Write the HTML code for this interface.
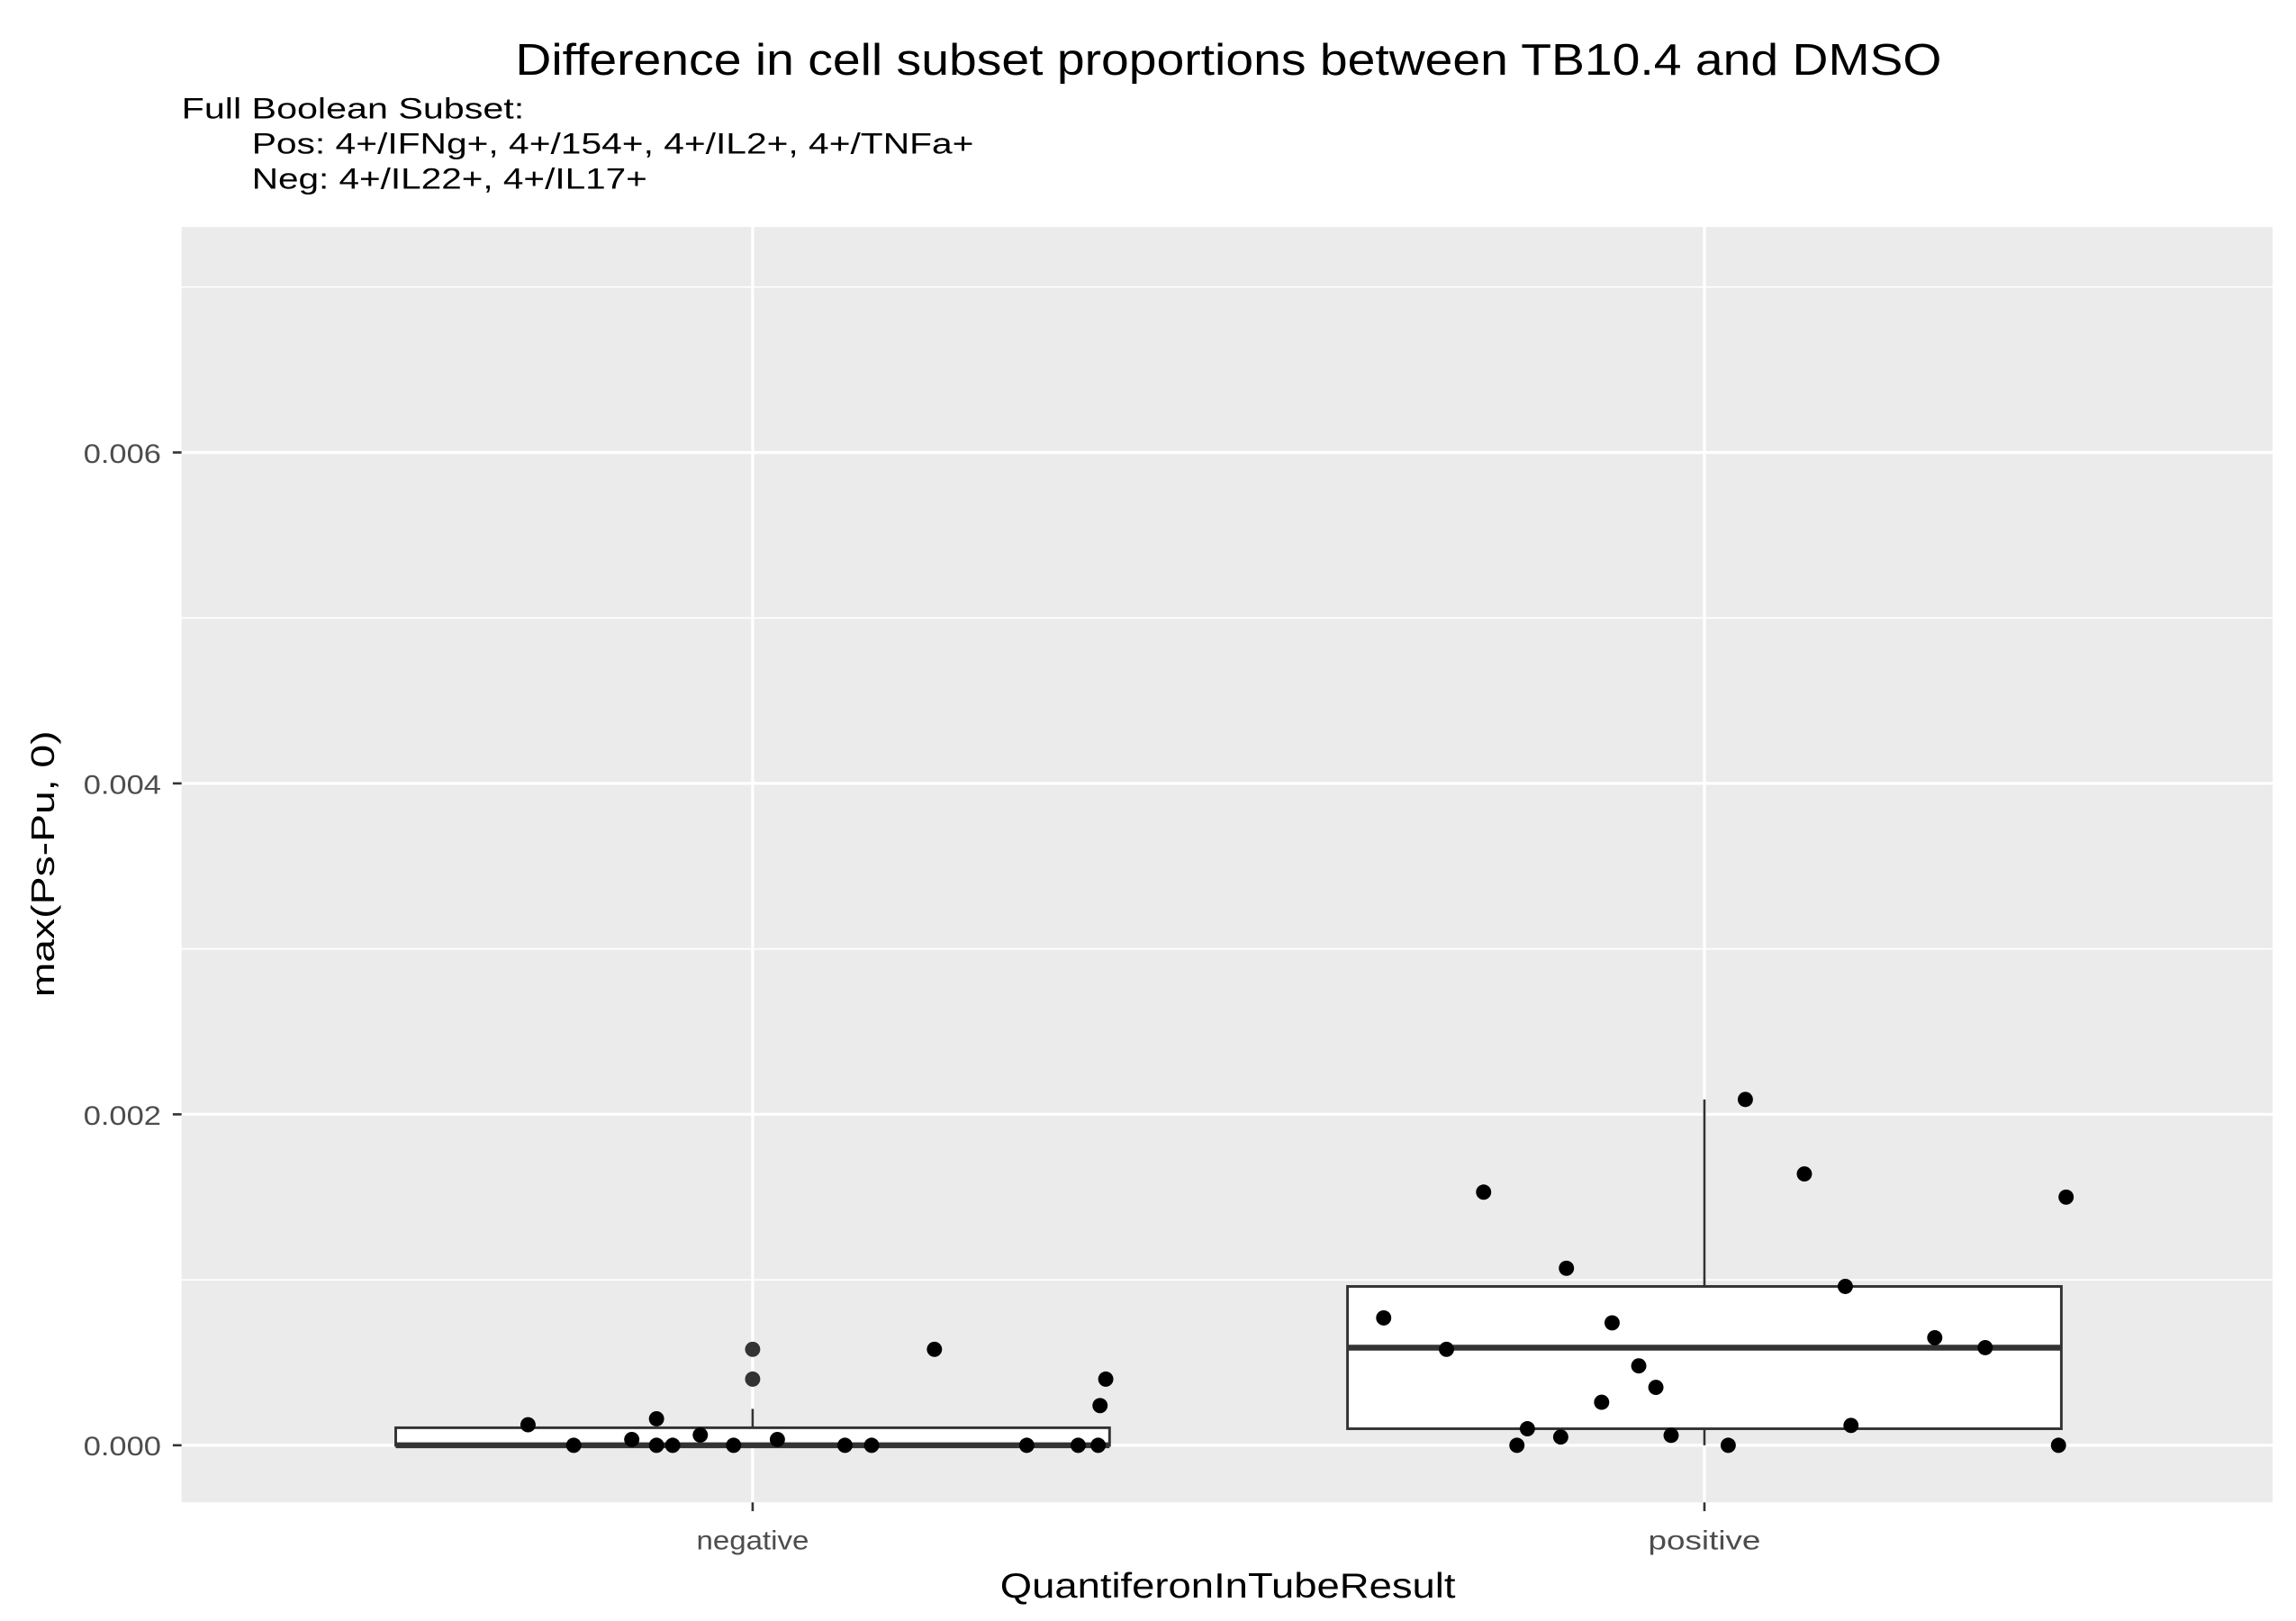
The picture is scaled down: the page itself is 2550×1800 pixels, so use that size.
<!DOCTYPE html>
<html><head><meta charset="utf-8"><style>
html,body{margin:0;padding:0;background:#fff;}
svg{display:block;font-family:"Liberation Sans",sans-serif;}
</style></head><body>
<svg id="chart" width="2550" height="1800" viewBox="0 0 1568 1107" preserveAspectRatio="none">
<rect width="1568" height="1107" fill="#fff"/>
<text x="352" y="51" font-size="30" textLength="974" lengthAdjust="spacingAndGlyphs" fill="#000">Difference in cell subset proportions between TB10.4 and DMSO</text>
<text x="124" y="81" font-size="20" textLength="234" lengthAdjust="spacingAndGlyphs" fill="#000">Full Boolean Subset:</text>
<text x="172" y="105" font-size="20" textLength="493" lengthAdjust="spacingAndGlyphs" fill="#000">Pos: 4+/IFNg+, 4+/154+, 4+/IL2+, 4+/TNFa+</text>
<text x="172" y="129" font-size="20" textLength="270" lengthAdjust="spacingAndGlyphs" fill="#000">Neg: 4+/IL22+, 4+/IL17+</text>
<rect x="124" y="155" width="1428" height="871" fill="#ebebeb"/>
<g id="grid"></g>
<g id="boxes"></g>
<g id="points"></g>
<g id="axes"></g>
<text x="683" y="1091" font-size="24" textLength="311" lengthAdjust="spacingAndGlyphs" fill="#000">QuantiferonInTubeResult</text>
<text transform="translate(37,590) rotate(-90)" font-size="22" text-anchor="middle" textLength="182" lengthAdjust="spacingAndGlyphs" fill="#000">max(Ps-Pu, 0)</text>
</svg>
<script>
const categories = ["negative", "positive"];
const yTicks = [0, 0.002, 0.004, 0.006];
const yTickLabels = ["0.000", "0.002", "0.004", "0.006"];
const yMinor = [0.001, 0.003, 0.005, 0.007];
const boxLow = [0, 0];
const boxQ1 = [0, 0.0001];
const boxMedian = [0, 0.00059];
const boxQ3 = [0.000106, 0.00096];
const boxHigh = [0.00022, 0.00209];
const outlierCat = [0, 0];
const outlierVals = [0.0004, 0.00058];
const negJitter = [-0.236,-0.188,-0.127,-0.101,-0.101,-0.084,-0.055,-0.020,0.026,0.097,0.125,0.191,0.288,0.342,0.363,0.365,0.371];
const negVals = [0.000124,0,0.000035,0.00016,0,0,0.000062,0,0.000035,0,0,0.00058,0,0,0,0.00024,0.0004];
const posJitter = [-0.337,-0.271,-0.232,-0.197,-0.186,-0.151,-0.145,-0.108,-0.097,-0.069,-0.051,-0.035,0.025,0.043,0.105,0.148,0.154,0.242,0.295,0.372,0.380];
const posVals = [0.00077,0.00058,0.00153,0,0.0001,0.00005,0.00107,0.00026,0.00074,0.00048,0.00035,0.00006,0,0.00209,0.00164,0.00096,0.00012,0.00065,0.00059,0,0.0015];

const NS = "http://www.w3.org/2000/svg";
const X0 = 124, X1 = 1552, Y0 = 155, Y1 = 1026;
const xScale = c => 514 + c * 650;
const yScale = v => 987 - v * 113000;
function mk(tag, attrs, parent) {
  const e = document.createElementNS(NS, tag);
  for (const k in attrs) e.setAttribute(k, attrs[k]);
  parent.appendChild(e);
  return e;
}
const grid = document.getElementById("grid");
yMinor.forEach(v => {
  const l = mk("line", {x1: X0, x2: X1, y1: yScale(v), y2: yScale(v), stroke: "#fff", "stroke-width": 1}, grid);
  
  
});
yTicks.forEach(v => {
  const l = mk("line", {x1: X0, x2: X1, y1: yScale(v), y2: yScale(v), stroke: "#fff", "stroke-width": 2}, grid);
  
  
});
categories.forEach((c, i) => {
  const l = mk("line", {x1: xScale(i), x2: xScale(i), y1: Y0, y2: Y1, stroke: "#fff", "stroke-width": 2}, grid);
  
  
});
const boxes = document.getElementById("boxes");
const halfW = 0.375;
categories.forEach((c, i) => {
  const g = mk("g", {}, boxes);
  
  
  const cx = xScale(i);
  mk("line", {x1: cx, x2: cx, y1: yScale(boxQ3[i]), y2: yScale(boxHigh[i]), stroke: "#333", "stroke-width": 1.6}, g);
  mk("line", {x1: cx, x2: cx, y1: yScale(boxQ1[i]), y2: yScale(boxLow[i]), stroke: "#333", "stroke-width": 1.6}, g);
  const xl = xScale(i - halfW), xr = xScale(i + halfW);
  mk("rect", {x: xl, y: yScale(boxQ3[i]), width: xr - xl, height: Math.max(0.5, yScale(boxQ1[i]) - yScale(boxQ3[i])), fill: "#fff", stroke: "#333", "stroke-width": 1.8}, g);
  mk("line", {x1: xl, x2: xr, y1: yScale(boxMedian[i]), y2: yScale(boxMedian[i]), stroke: "#333", "stroke-width": 4}, g);
});
const pts = document.getElementById("points");
outlierVals.forEach((v, k) => {
  const p = mk("circle", {cx: xScale(outlierCat[k]), cy: yScale(v), r: 5.2, fill: "#333"}, pts);
  
  
});
negVals.forEach((v, k) => {
  const p = mk("circle", {cx: xScale(0 + negJitter[k]), cy: yScale(v), r: 5.2, fill: "#000"}, pts);
  
  
});
posVals.forEach((v, k) => {
  const p = mk("circle", {cx: xScale(1 + posJitter[k]), cy: yScale(v), r: 5.2, fill: "#000"}, pts);
  
  
});
const axes = document.getElementById("axes");
yTicks.forEach((v, k) => {
  const t = mk("line", {x1: X0 - 6, x2: X0, y1: yScale(v), y2: yScale(v), stroke: "#333", "stroke-width": 1.6}, axes);
  
  
  const lb = mk("text", {x: 57, y: yScale(v) + 7, "font-size": 18, textLength: 53, lengthAdjust: "spacingAndGlyphs", fill: "#4d4d4d"}, axes);
  lb.textContent = yTickLabels[k];
  
  
});
categories.forEach((c, i) => {
  const t = mk("line", {x1: xScale(i), x2: xScale(i), y1: Y1, y2: Y1 + 6, stroke: "#333", "stroke-width": 1.6}, axes);
  
  
  const lb = mk("text", {x: xScale(i), y: Y1 + 32, "font-size": 18, "text-anchor": "middle", textLength: c.length * 9.6, lengthAdjust: "spacingAndGlyphs", fill: "#4d4d4d"}, axes);
  lb.textContent = c;
  
  
});
</script>
</body></html>
